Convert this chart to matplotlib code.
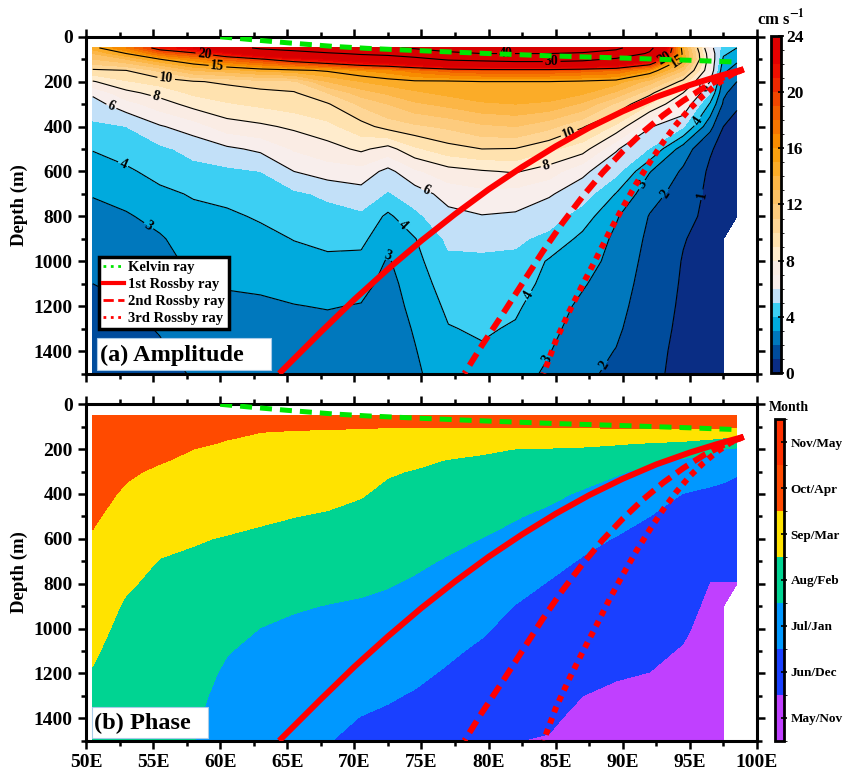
import numpy as np
import matplotlib.pyplot as plt
from matplotlib.colors import ListedColormap, BoundaryNorm
from matplotlib.cm import ScalarMappable
from matplotlib.lines import Line2D
from matplotlib.patches import Rectangle
from matplotlib.ticker import MultipleLocator

plt.rcParams['font.family'] = ['Liberation Serif', 'DejaVu Serif']
plt.rcParams['font.weight'] = 'bold'
plt.rcParams['mathtext.fontset'] = 'stix'

nan = np.nan

# ---- data ----
lon = [50.5, 53, 55.5, 58, 60.5, 63, 65.5, 68, 70.5, 72.5, 74.5, 77, 79.5,
       82, 84.5, 87, 89.5, 92, 94.5, 96.5, 97.5, 98.5]

amp_depth = [50, 75, 100, 150, 200, 250, 300, 400, 500, 600, 700, 800, 900,
             1000, 1100, 1200, 1300, 1400, 1500]

# amplitude (cm/s), one list per longitude, top to bottom
amp_cols = [
    [14.5, 13, 12, 9.8, 7.9, 6.2, 5.6, 4.8, 4.05, 3.55, 3.05, 2.75, 2.5, 2.25, 2.0, 1.85, 1.75, 1.65, 1.6],
    [17, 15, 13, 10, 8.9, 7.7, 6.6, 5.0, 4.4, 3.85, 3.35, 2.9, 2.6, 2.35, 2.15, 1.95, 1.8, 1.7, 1.65],
    [21, 18, 15, 11.2, 9.4, 8.4, 7.5, 5.9, 4.8, 4.3, 3.8, 3.3, 2.9, 2.7, 2.5, 2.25, 2.05, 1.9, 1.8],
    [23, 19.5, 16.5, 13, 9.9, 9.2, 8.4, 6.5, 5.3, 4.7, 4.08, 3.75, 3.45, 3.2, 3.02, 2.75, 2.5, 2.25, 2.05],
    [27, 22, 18.5, 13.5, 10.2, 9.5, 8.9, 7.5, 5.8, 4.8, 4.25, 3.85, 3.6, 3.35, 3.08, 2.8, 2.6, 2.45, 2.3],
    [31, 25, 19.8, 14.3, 10.6, 9.7, 9.2, 7.8, 6.2, 5.0, 4.5, 4.1, 3.75, 3.45, 3.15, 2.85, 2.65, 2.5, 2.4],
    [33, 27, 21.5, 14.7, 10.8, 9.9, 9.5, 8.2, 7.1, 6.0, 4.8, 4.4, 4.03, 3.7, 3.3, 2.97, 2.7, 2.55, 2.45],
    [36, 29, 23, 15.2, 13, 11, 9.9, 8.7, 7.6, 6.5, 5.2, 4.6, 4.2, 3.85, 3.45, 3.05, 2.75, 2.6, 2.5],
    [38, 31, 25, 16, 14, 12.5, 11.2, 9.6, 8.2, 6.6, 5.6, 4.8, 4.25, 3.75, 3.3, 2.95, 2.7, 2.6, 2.5],
    [39, 32, 26, 16.5, 14.5, 13.2, 12, 10.4, 7.6, 5.7, 4.9, 3.8, 3.3, 2.9, 2.7, 2.6, 2.5, 2.4, 2.35],
    [41, 34, 28, 17.5, 14.8, 13.8, 12.8, 10.8, 8.8, 6.8, 5.5, 4.75, 3.95, 3.7, 3.45, 3.25, 3.08, 2.95, 2.85],
    [44, 38, 31, 18.5, 14.8, 14.3, 13.3, 11.2, 9.6, 7.6, 6.4, 5.7, 5.2, 4.8, 4.5, 4.2, 3.95, 3.7, 3.5],
    [46, 40, 32, 19, 15, 14.8, 13.8, 11.8, 10.0, 7.9, 6.7, 5.95, 5.3, 4.8, 4.5, 4.3, 4.12, 3.9, 3.75],
    [46, 40, 33, 19, 15, 14.6, 14.0, 12, 9.95, 8.1, 6.6, 5.85, 5.2, 4.75, 4.45, 4.15, 3.9, 3.6, 3.35],
    [46, 40, 33, 19, 15, 14.6, 13.8, 11.3, 9.2, 7.5, 6.1, 5.5, 4.7, 3.9, 3.7, 3.45, 3.25, 3.05, 2.85],
    [45, 39, 32, 18.5, 14.8, 14.2, 12.8, 10.1, 8.5, 6.2, 5.5, 4.5, 3.75, 3.5, 3.1, 2.8, 2.6, 2.35, 2.15],
    [42, 36, 29, 18, 14.5, 12.8, 10.8, 8.8, 6.1, 5.3, 3.95, 3.1, 2.8, 2.6, 2.45, 2.3, 2.15, 1.97, 1.85],
    [32, 29, 24, 16, 12.5, 10.3, 9.0, 6.1, 4.95, 3.05, 2.35, 1.95, 1.8, 1.7, 1.6, 1.5, 1.4, 1.3, 1.25],
    [14, 14.5, 14.5, 12, 9.6, 8.0, 6.9, 5.1, 2.5, 1.85, 1.6, 1.35, 1.05, 0.95, 0.9, 0.85, 0.8, 0.75, 0.7],
    [6.5, 7.0, 7.2, 7.0, 6.0, 5.0, 3.9, 2.3, 1.1, 0.85, 0.75, 0.7, 0.68, 0.65, 0.62, 0.6, 0.58, 0.56, 0.55],
    [4.5, 4.2, 3.8, 3.2, 2.6, 2.2, 1.85, 1.0, 0.7, 0.62, 0.58, 0.55, 0.52, 0.5, 0.5, 0.48, 0.47, 0.46, 0.45],
    [4.0, 3.6, 3.2, 2.6, 2.0, 1.5, 1.1, 0.75, 0.6, 0.55, 0.5, 0.48, nan, nan, nan, nan, nan, nan, nan],
]

phase_depth = [50, 100, 125, 150, 175, 200, 250, 300, 400, 500, 600, 700, 800,
               900, 1000, 1100, 1200, 1300, 1400, 1500]

# phase index (0 = May/Nov ... 6 = Nov/May), one list per longitude
phase_cols = [
    [5.9, 5.8, 5.78, 5.75, 5.7, 5.65, 5.55, 5.45, 5.25, 5.1, 4.93, 4.77, 4.6, 4.44, 4.28, 4.11, 3.95, 3.8, 3.65, 3.5],
    [5.85, 5.7, 5.62, 5.55, 5.47, 5.4, 5.25, 5.1, 4.9, 4.7, 4.5, 4.3, 4.1, 3.9, 3.75, 3.62, 3.5, 3.4, 3.3, 3.2],
    [5.8, 5.6, 5.5, 5.4, 5.3, 5.2, 5.05, 4.9, 4.65, 4.42, 4.2, 3.97, 3.8, 3.65, 3.52, 3.4, 3.3, 3.2, 3.12, 3.05],
    [5.75, 5.45, 5.35, 5.2, 5.1, 5.0, 4.88, 4.78, 4.55, 4.3, 4.05, 3.9, 3.77, 3.65, 3.52, 3.4, 3.3, 3.2, 3.1, 3.02],
    [5.7, 5.3, 5.15, 5.03, 4.95, 4.9, 4.78, 4.65, 4.42, 4.2, 3.96, 3.78, 3.6, 3.42, 3.22, 3.04, 2.88, 2.75, 2.62, 2.5],
    [5.65, 5.15, 5.0, 4.93, 4.87, 4.8, 4.7, 4.58, 4.33, 4.1, 3.87, 3.65, 3.43, 3.2, 2.99, 2.8, 2.63, 2.48, 2.35, 2.22],
    [5.6, 5.08, 4.96, 4.9, 4.84, 4.78, 4.66, 4.53, 4.27, 4.01, 3.78, 3.55, 3.3, 3.06, 2.88, 2.7, 2.52, 2.36, 2.2, 2.06],
    [5.55, 5.05, 4.95, 4.88, 4.82, 4.75, 4.61, 4.47, 4.2, 3.93, 3.7, 3.45, 3.22, 2.98, 2.8, 2.63, 2.47, 2.32, 2.17, 2.03],
    [5.5, 5.03, 4.94, 4.86, 4.78, 4.7, 4.54, 4.37, 4.05, 3.8, 3.58, 3.36, 3.13, 2.92, 2.73, 2.55, 2.36, 2.17, 1.98, 1.82],
    [5.5, 5.02, 4.9, 4.79, 4.67, 4.55, 4.3, 4.07, 3.83, 3.63, 3.43, 3.24, 3.04, 2.85, 2.65, 2.46, 2.26, 2.07, 1.88, 1.72],
    [5.5, 5.02, 4.88, 4.73, 4.58, 4.44, 4.16, 3.96, 3.75, 3.54, 3.33, 3.12, 2.92, 2.73, 2.53, 2.33, 2.14, 1.94, 1.78, 1.62],
    [5.5, 5.02, 4.84, 4.65, 4.46, 4.27, 3.97, 3.85, 3.62, 3.39, 3.16, 2.94, 2.73, 2.53, 2.32, 2.11, 1.92, 1.75, 1.6, 1.45],
    [5.5, 5.03, 4.8, 4.56, 4.33, 4.1, 3.9, 3.77, 3.5, 3.25, 2.99, 2.76, 2.54, 2.31, 2.09, 1.88, 1.7, 1.53, 1.37, 1.22],
    [5.5, 5.05, 4.78, 4.5, 4.23, 3.99, 3.84, 3.68, 3.37, 3.05, 2.78, 2.51, 2.24, 1.98, 1.78, 1.6, 1.43, 1.28, 1.14, 1.01],
    [5.5, 5.05, 4.76, 4.47, 4.18, 3.96, 3.76, 3.57, 3.18, 2.83, 2.52, 2.22, 1.96, 1.81, 1.67, 1.52, 1.38, 1.23, 1.09, 0.96],
    [5.5, 5.05, 4.75, 4.44, 4.14, 3.92, 3.65, 3.38, 2.9, 2.55, 2.21, 1.94, 1.78, 1.63, 1.47, 1.31, 1.16, 1.0, 0.86, 0.72],
    [5.5, 5.1, 4.75, 4.4, 4.05, 3.85, 3.47, 3.08, 2.68, 2.3, 1.96, 1.81, 1.66, 1.5, 1.36, 1.21, 1.05, 0.9, 0.77, 0.64],
    [5.5, 5.1, 4.73, 4.32, 3.95, 3.7, 3.15, 2.85, 2.43, 2.0, 1.86, 1.71, 1.57, 1.43, 1.28, 1.14, 0.99, 0.85, 0.73, 0.62],
    [5.5, 5.15, 4.72, 4.25, 3.83, 3.47, 2.9, 2.58, 1.98, 1.84, 1.69, 1.54, 1.4, 1.25, 1.1, 0.95, 0.82, 0.7, 0.6, 0.5],
    [5.5, 5.15, 4.67, 4.1, 3.67, 3.25, 2.7, 2.3, 1.86, 1.63, 1.42, 1.2, 0.98, 0.85, 0.75, 0.67, 0.6, 0.55, 0.5, 0.45],
    [5.5, 5.15, 4.62, 4.0, 3.5, 3.0, 2.6, 2.17, 1.83, 1.62, 1.4, 1.19, 0.98, 0.85, 0.75, 0.67, 0.6, 0.55, 0.5, 0.45],
    [5.5, 5.1, 4.5, 3.9, 3.35, 2.9, 2.45, 2.05, 1.82, 1.6, 1.39, 1.18, 0.98, nan, nan, nan, nan, nan, nan, nan],
]

month_labels = ['May/Nov', 'Jun/Dec', 'Jul/Jan', 'Aug/Feb', 'Sep/Mar', 'Oct/Apr', 'Nov/May']

# ray paths (lon, depth)
kelvin_lon = [60, 62.5, 65, 68.4, 71, 74.4, 80, 85, 90, 95, 98.5]
kelvin_depth = [0, 14, 27, 43, 52, 61, 75, 86, 95, 105, 113]
ross1_lon = [99.0, 97.0, 95.0, 92.5, 90.0, 87.5, 85.0, 82.5, 80.0, 77.5, 75.0, 72.5, 70.0, 67.5, 64.4]
ross1_depth = [145, 178, 215, 268, 332, 405, 488, 580, 680, 790, 908, 1035, 1170, 1315, 1500]
ross2_lon = [99.0, 97.5, 96.0, 94.5, 93.0, 91.5, 90.0, 88.5, 87.0, 85.5, 84.0, 82.5, 81.0, 79.5, 78.2]
ross2_depth = [145, 182, 228, 285, 350, 425, 510, 605, 712, 830, 960, 1100, 1240, 1375, 1500]
ross3_lon = [99.0, 98.0, 97.0, 96.0, 95.0, 94.0, 93.0, 92.0, 91.0, 90.0, 89.0, 88.0, 87.0, 86.0, 85.0, 84.1]
ross3_depth = [145, 172, 212, 262, 320, 390, 470, 560, 655, 760, 870, 990, 1105, 1225, 1355, 1500]

amp = np.array(amp_cols).T
phase = np.array(phase_cols).T

amp_levels = np.arange(0, 25, 1)
line_levels = [1, 2, 3, 4, 6, 8, 10, 15, 20, 30, 40]
amp_colors = ['#0a2d84', '#004c9c', '#0078bd', '#00aadd', '#3ccff3', '#c2e0f8',
              '#f8eeec', '#faece4', '#ffeccd', '#ffe2af', '#fed696', '#fdcb7d',
              '#fdc164', '#fcb646', '#fbac28', '#faa00f', '#f88c00', '#f57600',
              '#f35f00', '#f24600', '#f02800', '#ee0f00', '#e80000', '#dc0000']
phase_colors = ['#c040ff', '#1a40ff', '#0098ff', '#00d492', '#ffe300', '#ff4a00', '#ff3000']

green = '#00e600'
red = '#ff0000'

fig = plt.figure(figsize=(8.48, 7.73), dpi=100)
ax1 = fig.add_axes([0.1014, 0.5168, 0.7913, 0.4357])
ax2 = fig.add_axes([0.1014, 0.0418, 0.7913, 0.4352])
cax1 = fig.add_axes([0.9092, 0.5175, 0.0118, 0.436])
cax2 = fig.add_axes([0.9139, 0.0418, 0.0112, 0.4158])

# ---- (a) amplitude ----
cmap_amp = ListedColormap(amp_colors)
cmap_amp.set_over('#d80000')
norm_amp = BoundaryNorm(amp_levels, cmap_amp.N)
ax1.contourf(lon, amp_depth, amp, levels=amp_levels, cmap=cmap_amp, norm=norm_amp,
             extend='max')
ax1.set_xlim(50, 100)
ax1.set_ylim(1500, 0)
cs = ax1.contour(lon, amp_depth, amp, levels=line_levels, colors='k', linewidths=0.8)
label_spots = [(58.8, 86), (59.8, 128), (56.0, 172), (55.2, 272), (51.9, 309),
               (52.8, 563), (54.8, 830), (72.6, 975), (74.0, 815), (75.3, 690),
               (86.0, 428), (84.3, 578), (84.7, 118), (81.3, 71), (93.1, 100),
               (94.3, 138), (96.1, 230), (95.2, 361), (91.2, 650), (93.2, 700),
               (95.6, 700), (83.6, 1174), (84.5, 1440), (88.8, 1470)]
ax1.clabel(cs, manual=label_spots, fmt='%d', fontsize=10, inline=True, inline_spacing=2)

# ---- (b) phase ----
cmap_ph = ListedColormap(phase_colors)
norm_ph = BoundaryNorm(np.arange(0, 8), cmap_ph.N)
ax2.contourf(lon, phase_depth, phase, levels=np.arange(0, 8), cmap=cmap_ph, norm=norm_ph)
ax2.set_xlim(50, 100)
ax2.set_ylim(1500, 0)

for ax in (ax1, ax2):
    ax.plot(kelvin_lon, kelvin_depth, color=green, lw=3.6, ls=(0, (2.4, 1.6)),
            solid_capstyle='butt', dash_capstyle='butt', zorder=5)
    ax.plot(ross1_lon, ross1_depth, color=red, lw=4.3, solid_capstyle='butt', zorder=5)
    ax.plot(ross2_lon, ross2_depth, color=red, lw=4.3, ls=(0, (2.3, 1.2)),
            dash_capstyle='butt', zorder=5)
    ax.plot(ross3_lon, ross3_depth, color=red, lw=4.3, ls=(0, (1, 1)),
            dash_capstyle='butt', zorder=5)
    ax.xaxis.set_major_locator(MultipleLocator(5))
    ax.xaxis.set_minor_locator(MultipleLocator(2.5))
    ax.yaxis.set_major_locator(MultipleLocator(200))
    ax.yaxis.set_minor_locator(MultipleLocator(100))
    ax.tick_params(which='both', direction='out', top=True, right=True, width=1.8)
    ax.tick_params(which='major', length=6, labelsize=14)
    ax.tick_params(which='minor', length=3.5)
    for sp in ax.spines.values():
        sp.set_linewidth(2.2)
    ax.set_ylabel('Depth (m)', fontsize=13.5, fontweight='bold', labelpad=4)

ax1.set_xticklabels([])
ax2.set_xticks(np.arange(50, 101, 5))
ax2.set_xticklabels([f'{v}E' for v in range(50, 101, 5)])

# legend
handles = [Line2D([], [], color=green, lw=2, ls=':'),
           Line2D([], [], color=red, lw=3),
           Line2D([], [], color=red, lw=2, ls='--'),
           Line2D([], [], color=red, lw=2, ls=':')]
leg = ax1.legend(handles, ['Kelvin ray', '1st Rossby ray', '2nd Rossby ray', '3rd Rossby ray'],
                 loc='upper left', bbox_to_anchor=(0.019, 0.347), borderaxespad=0,
                 fontsize=10.5, handlelength=1.4, handletextpad=0.3, labelspacing=0.25,
                 borderpad=0.3, fancybox=False, framealpha=1, edgecolor='k')
leg.get_frame().set_linewidth(2.5)
leg.set_zorder(10)

# panel titles in white boxes
ax1.add_patch(Rectangle((0.0164, 0.0104), 0.2593, 0.095, transform=ax1.transAxes,
                        facecolor='white', edgecolor='#a8cbe8', lw=0.8, zorder=9))
ax1.text(0.021, 0.022, '(a) Amplitude', transform=ax1.transAxes, fontsize=17.5,
         fontweight='bold', va='bottom', ha='left', zorder=10)
ax2.add_patch(Rectangle((0.009, 0.008), 0.1729, 0.092, transform=ax2.transAxes,
                        facecolor='white', edgecolor='#a8cbe8', lw=0.8, zorder=9))
ax2.text(0.012, 0.02, '(b) Phase', transform=ax2.transAxes, fontsize=17.5,
         fontweight='bold', va='bottom', ha='left', zorder=10)

# colorbars
cb1 = fig.colorbar(ScalarMappable(norm=norm_amp, cmap=cmap_amp), cax=cax1)
cb1.set_ticks(np.arange(0, 25, 4))
cb1.ax.tick_params(labelsize=12.5, direction='inout', length=5, width=1.2, pad=1)
cb1.outline.set_linewidth(2)
fig.text(0.893, 0.968, r'cm s$^{\mathbf{-1}}$', fontsize=12, fontweight='bold', ha='left')

cb2 = fig.colorbar(ScalarMappable(norm=norm_ph, cmap=cmap_ph), cax=cax2)
cb2.set_ticks(np.arange(0.5, 7, 1))
cb2.set_ticklabels(month_labels)
cb2.ax.tick_params(labelsize=9.5, direction='inout', length=5, width=1.2, pad=2)
cb2.outline.set_linewidth(2)
fig.text(0.907, 0.468, 'Month', fontsize=10, fontweight='bold', ha='left')

fig.savefig('out.png', dpi=100)
